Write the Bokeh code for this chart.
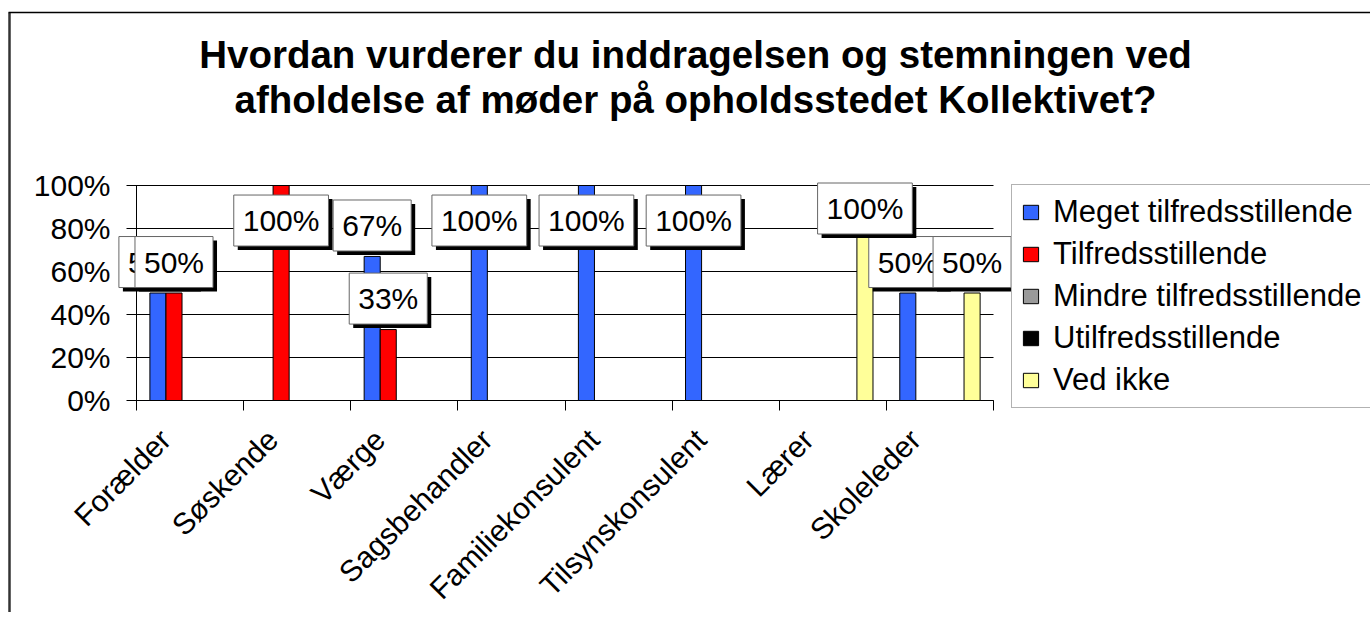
from math import pi
from bokeh.plotting import figure
from bokeh.models import (FixedTicker, NumeralTickFormatter, Label, Legend, LegendItem,
                          PolyAnnotation, Range1d)
from bokeh.embed import file_html
from bokeh.resources import INLINE

# ---------------- data ----------------
categories = ["Forælder", "Søskende", "Værge", "Sagsbehandler", "Familiekonsulent",
              "Tilsynskonsulent", "Lærer", "Skoleleder"]
series_names = ["Meget tilfredsstillende", "Tilfredsstillende", "Mindre tilfredsstillende",
                "Utilfredsstillende", "Ved ikke"]
meget = [0.50, 0.00, 0.67, 1.00, 1.00, 1.00, 0.00, 0.50]
tilfreds = [0.50, 1.00, 0.33, 0.00, 0.00, 0.00, 0.00, 0.00]
mindre = [0.00, 0.00, 0.00, 0.00, 0.00, 0.00, 0.00, 0.00]
utilfreds = [0.00, 0.00, 0.00, 0.00, 0.00, 0.00, 0.00, 0.00]
ved_ikke = [0.00, 0.00, 0.00, 0.00, 0.00, 0.00, 1.00, 0.50]
y_ticks = [0.0, 0.2, 0.4, 0.6, 0.8, 1.0]
title_lines = ["Hvordan vurderer du inddragelsen og stemningen ved",
               "afholdelse af møder på opholdsstedet Kollektivet?"]

# ---------------- layout / style ----------------
colors = ["#3366FF", "#FF0000", "#999999", "#000000", "#FFFF99"]
FONT = "Liberation Sans"
series = [meget, tilfreds, mindre, utilfreds, ved_ikke]
n_cat = len(categories)
W, H = 1370, 612
PLOT_L, PLOT_R, PLOT_T, PLOT_B = 136, 993, 185, 400   # plot-area box in page pixels
shift = 0.23          # label anchor sits left of the bar group (Excel style)
slot = 0.15           # width of one bar slot in category units
label_cap = [0.837, 0.837, 0.837, 0.837, 0.893]

x0, x1 = shift - 0.5, n_cat - 0.5 + shift
xppu = (PLOT_R - PLOT_L) / (x1 - x0)
yppu = (PLOT_B - PLOT_T) / 1.0
xr = Range1d(x0 - PLOT_L / xppu, x0 + (W - PLOT_L) / xppu)
yr = Range1d(-(H - PLOT_B) / yppu, 1 + PLOT_T / yppu)

p = figure(width=W, height=H, min_border=0, x_range=xr, y_range=yr,
           output_backend="svg", toolbar_location=None,
           background_fill_color="white", border_fill_color="white")
p.outline_line_color = None
p.grid.visible = False

# y axis (its inward ticks form the horizontal gridlines)
ya = p.yaxis[0]
ya.fixed_location = x0
ya.bounds = (0, 1)
ya.level = "underlay"
ya.ticker = FixedTicker(ticks=y_ticks)
ya.formatter = NumeralTickFormatter(format="0%")
ya.major_label_text_font = FONT
ya.major_label_text_font_size = "30px"
ya.major_label_text_color = "black"
ya.major_tick_out = 10
ya.major_tick_in = PLOT_R - PLOT_L
ya.minor_tick_line_color = None
ya.axis_line_color = "black"
ya.major_tick_line_color = "black"
ya.major_label_standoff = 16

# x axis
xa = p.xaxis[0]
xa.fixed_location = 0
xa.bounds = (x0, x1)
xa.level = "underlay"
xa.ticker = FixedTicker(ticks=list(range(n_cat)),
                        minor_ticks=[i + shift - 0.5 for i in range(n_cat + 1)])
xa.major_label_overrides = {i: c for i, c in enumerate(categories)}
xa.major_label_orientation = pi / 4
xa.major_label_text_font = FONT
xa.major_label_text_font_size = "30px"
xa.major_label_text_color = "black"
xa.major_tick_line_color = None
xa.major_tick_out = 10
xa.major_tick_in = 0
xa.minor_tick_out = 10
xa.minor_tick_in = 0
xa.minor_tick_line_color = "black"
xa.axis_line_color = "black"
xa.major_label_standoff = 24

# bars
renderers = []
for k, vals in enumerate(series):
    xs = [i + shift + (k - 2) * slot for i in range(n_cat)]
    r = p.vbar(x=xs, top=vals, width=slot, bottom=0,
               fill_color=colors[k], line_color="black", line_width=1)
    renderers.append(r)

# data labels (white boxes with black shadow)
for k, vals in enumerate(series):
    for i, v in enumerate(vals):
        if v <= 0:
            continue
        x = i + shift + (k - 2) * slot
        y = min(v + 0.144, label_cap[k])
        txt = f"{round(v * 100)}%"
        common = dict(x=x, y=y, text=txt, text_font=FONT, text_font_size="30px",
                      text_align="center", text_baseline="middle", padding=9)
        p.add_layout(Label(x_offset=4, y_offset=-4, text_color="black",
                           background_fill_color="black", **common))
        p.add_layout(Label(text_color="black", background_fill_color="white",
                           border_line_color="#666666", border_line_width=1, **common))

# legend
legend = Legend(items=[LegendItem(label=n, renderers=[r]) for n, r in zip(series_names, renderers)],
                location=(1011, H - 408), orientation="vertical",
                label_text_font=FONT, label_text_font_size="31px", label_text_color="black",
                label_height=30, glyph_height=18, glyph_width=19,
                spacing=6, padding=9, margin=0, label_standoff=13,
                border_line_color="#666666", border_line_width=1,
                background_fill_color="white", background_fill_alpha=1)
p.add_layout(legend, "center")

# title (two lines)
for j, base in enumerate([54, 99]):
    p.add_layout(Label(x=695, y=H - base, x_units="screen", y_units="screen",
                       text=title_lines[j], text_font=FONT, text_font_size="38.5px",
                       text_font_style="bold", text_align="center",
                       text_baseline="alphabetic", text_color="black"))

# chart-area border (only left and top edges fall inside the picture)
p.add_layout(PolyAnnotation(xs=[9, 9, 9], ys=[-200, H - 12, -200],
                            xs_units="screen", ys_units="screen",
                            fill_alpha=0, line_color="#333333", line_alpha=1.0,
                            line_width=2.5, level="underlay"))
p.add_layout(PolyAnnotation(xs=[8, 4000, 8], ys=[H - 12, H - 12, H - 12],
                            xs_units="screen", ys_units="screen",
                            fill_alpha=0, line_color="black", line_alpha=1.0,
                            line_width=1.5, level="underlay"))

open("out.html", "w").write(file_html(p, INLINE))
